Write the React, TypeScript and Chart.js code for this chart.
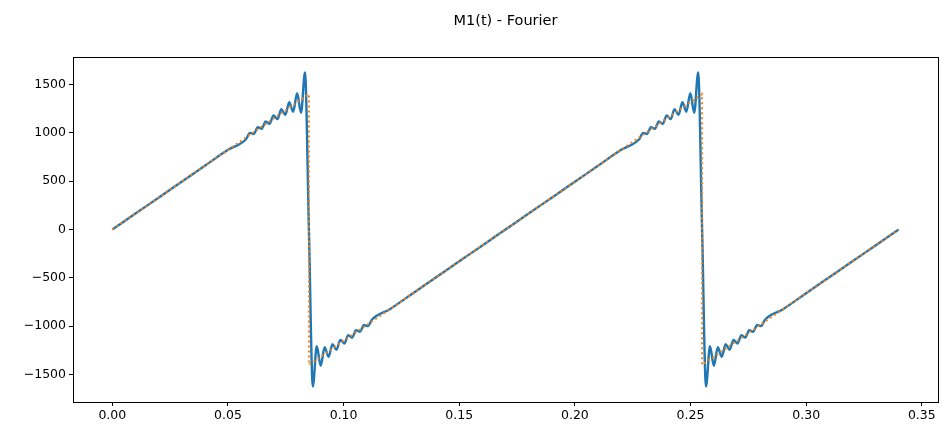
import React, { useEffect, useRef } from 'react';
import { Chart, registerables } from 'chart.js';

Chart.register(...registerables);

const chartTitle = 'M1(t) - Fourier';

const xTicks = [0, 0.05, 0.1, 0.15, 0.2, 0.25, 0.3, 0.35];
const yTicks = [-1500, -1000, -500, 0, 500, 1000, 1500];

// Fourier approximation (blue)
const fourierT = [
  0, 0.01, 0.02, 0.03, 0.04, 0.05,
  0.0578, 0.0595, 0.0612, 0.0629, 0.0646, 0.0663,
  0.068, 0.0697, 0.0714, 0.0731, 0.0748, 0.0765, 0.0782, 0.0799, 0.0816, 0.0833,
  0.085,
  0.0867, 0.0884, 0.0901, 0.0918, 0.0935, 0.0952, 0.0969, 0.0986, 0.1003, 0.102,
  0.1037, 0.1054, 0.1071, 0.1088, 0.1105, 0.1122,
  0.12, 0.13, 0.14, 0.15, 0.16, 0.17, 0.18, 0.19, 0.2, 0.21, 0.22,
  0.2278, 0.2295, 0.2312, 0.2329, 0.2346, 0.2363,
  0.238, 0.2397, 0.2414, 0.2431, 0.2448, 0.2465, 0.2482, 0.2499, 0.2516, 0.2533,
  0.255,
  0.2567, 0.2584, 0.2601, 0.2618, 0.2635, 0.2652, 0.2669, 0.2686, 0.2703, 0.272,
  0.2737, 0.2754, 0.2771, 0.2788, 0.2805, 0.2822,
  0.29, 0.3, 0.31, 0.32, 0.33, 0.34,
];
const fourierV = [
  0, 165, 329, 494, 659, 824,
  934, 999, 988, 1057, 1041, 1117,
  1092, 1179, 1141, 1244, 1185, 1316, 1218, 1409, 1208, 1623,
  0,
  -1623, -1208, -1409, -1218, -1316, -1185, -1244, -1141, -1179, -1092,
  -1117, -1041, -1057, -988, -999, -934,
  -824, -659, -494, -329, -165, 0, 165, 329, 494, 659, 824,
  934, 999, 988, 1057, 1041, 1117,
  1092, 1179, 1141, 1244, 1185, 1316, 1218, 1409, 1208, 1623,
  0,
  -1623, -1208, -1409, -1218, -1316, -1185, -1244, -1141, -1179, -1092,
  -1117, -1041, -1057, -988, -999, -934,
  -824, -659, -494, -329, -165, 0,
];

// Exact signal (orange dotted)
const exactT = [0, 0.085, 0.085, 0.255, 0.255, 0.34];
const exactV = [0, 1400, -1400, 1400, -1400, 0];

const frameAndTitle = {
  id: 'frameAndTitle',
  afterDraw(chart: any) {
    const { ctx, chartArea } = chart;
    const { left, right, top, bottom } = chartArea;
    ctx.save();
    ctx.strokeStyle = '#000';
    ctx.lineWidth = 1;
    ctx.strokeRect(Math.round(left) + 0.5, Math.round(top) + 0.5, Math.round(right - left), Math.round(bottom - top));
    ctx.fillStyle = '#000';
    ctx.font = '14.5px "DejaVu Sans"';
    ctx.textAlign = 'center';
    ctx.textBaseline = 'middle';
    ctx.fillText(chartTitle, (left + right) / 2, 21);
    ctx.restore();
  },
};

export default function App() {
  const ref = useRef<HTMLCanvasElement>(null);
  useEffect(() => {
    const tickFont = { family: 'DejaVu Sans', size: 12.5 };
    const chart = new Chart(ref.current as HTMLCanvasElement, {
      type: 'line',
      data: {
        datasets: [
          {
            label: 'exact',
            data: exactT.map((t, i) => ({ x: t, y: exactV[i] })),
            borderColor: '#ff7f0e',
            borderWidth: 2,
            borderDash: [2, 3],
            pointRadius: 0,
            tension: 0,
            order: 0,
          },
          {
            label: 'fourier',
            data: fourierT.map((t, i) => ({ x: t, y: fourierV[i] })),
            borderColor: '#1f77b4',
            borderWidth: 2.4,
            pointRadius: 0,
            cubicInterpolationMode: 'monotone',
            order: 1,
          },
        ],
      },
      options: {
        responsive: false,
        animation: false,
        devicePixelRatio: 1,
        layout: { padding: { top: 57, right: 5, left: 0, bottom: 0 } },
        plugins: {
          legend: { display: false },
          tooltip: { enabled: false },
          title: { display: false },
        },
        scales: {
          x: {
            type: 'linear',
            min: -0.017,
            max: 0.357,
            afterBuildTicks: (s: any) => {
              s.ticks = xTicks.map((v) => ({ value: v }));
            },
            afterFit: (s: any) => {
              s.height = 24;
            },
            grid: { drawOnChartArea: false, drawTicks: true, tickLength: 4, tickColor: '#000', tickWidth: 1 },
            border: { display: false },
            ticks: {
              color: '#000',
              font: tickFont,
              padding: 2,
              maxRotation: 0,
              autoSkip: false,
              callback: (v: any) => Number(v).toFixed(2),
            },
          },
          y: {
            type: 'linear',
            min: -1784,
            max: 1784,
            afterBuildTicks: (s: any) => {
              s.ticks = yTicks.map((v) => ({ value: v }));
            },
            afterFit: (s: any) => {
              s.width = 73;
            },
            grid: { drawOnChartArea: false, drawTicks: true, tickLength: 4, tickColor: '#000', tickWidth: 1 },
            border: { display: false },
            ticks: {
              color: '#000',
              font: tickFont,
              padding: 3,
              autoSkip: false,
              callback: (v: any) => String(v).replace('-', '\u2212'),
            },
          },
        },
      },
      plugins: [frameAndTitle],
    } as any);
    return () => chart.destroy();
  }, []);
  return (
    <div style={{ position: 'absolute', left: 0, top: 0, width: 943, height: 426, background: '#fff' }}>
      <canvas ref={ref} width={943} height={426} style={{ width: 943, height: 426, display: 'block' }} />
    </div>
  );
}
